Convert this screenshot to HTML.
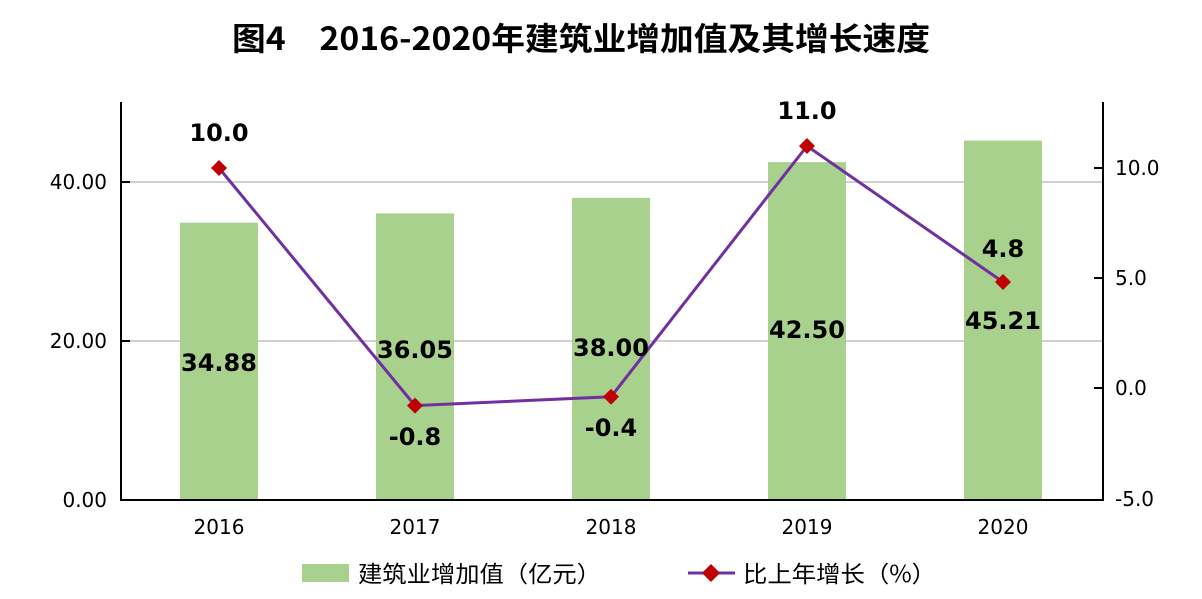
<!DOCTYPE html>
<html><head><meta charset="utf-8"><style>
body{margin:0;background:#fff;}
svg{display:block;}
</style></head><body>
<svg width="1202" height="599" viewBox="0 0 1202 599" xmlns="http://www.w3.org/2000/svg">
<text x="232" y="50" textLength="698" lengthAdjust="spacingAndGlyphs" font-family="'Noto Sans CJK SC','Liberation Sans',sans-serif" font-weight="bold" font-size="32" fill="#000">图4　2016-2020年建筑业增加值及其增长速度</text>
<g stroke="#d0d0d0" stroke-width="2">
<line x1="121" y1="182" x2="1103" y2="182"/>
<line x1="121" y1="341" x2="1103" y2="341"/>
</g>
<g fill="#a9d18e">
<rect x="180" y="222.7" width="78" height="277.3"/>
<rect x="376" y="213.4" width="78" height="286.6"/>
<rect x="572" y="197.9" width="78" height="302.1"/>
<rect x="768" y="162.1" width="78" height="337.9"/>
<rect x="964" y="140.6" width="78" height="359.4"/>
</g>
<g stroke="#000" stroke-width="2" fill="none">
<line x1="121" y1="102" x2="121" y2="501"/>
<line x1="1103" y1="102" x2="1103" y2="501"/>
<line x1="120" y1="500" x2="1104" y2="500"/>
<line x1="121" y1="182" x2="130" y2="182"/>
<line x1="121" y1="341" x2="130" y2="341"/>
<line x1="1103" y1="168" x2="1094" y2="168"/>
<line x1="1103" y1="278" x2="1094" y2="278"/>
<line x1="1103" y1="388" x2="1094" y2="388"/>
</g>
<g font-family="'DejaVu Sans','Liberation Sans',sans-serif" font-size="20" fill="#000">
<text x="107" y="189" text-anchor="end">40.00</text>
<text x="107" y="348" text-anchor="end">20.00</text>
<text x="107" y="507" text-anchor="end">0.00</text>
<text x="1115" y="175">10.0</text>
<text x="1115" y="285">5.0</text>
<text x="1115" y="395">0.0</text>
<text x="1115" y="506">-5.0</text>
<text x="219" y="534" text-anchor="middle">2016</text>
<text x="415" y="534" text-anchor="middle">2017</text>
<text x="611" y="534" text-anchor="middle">2018</text>
<text x="807" y="534" text-anchor="middle">2019</text>
<text x="1003" y="534" text-anchor="middle">2020</text>
</g>
<polyline points="219,168 415,405.6 611,396.8 807,146 1003,282" fill="none" stroke="#7030a0" stroke-width="3"/>
<g fill="#c00000">
<polygon points="219,160 227,168 219,176 211,168"/>
<polygon points="415,397.6 423,405.6 415,413.6 407,405.6"/>
<polygon points="611,388.8 619,396.8 611,404.8 603,396.8"/>
<polygon points="807,138 815,146 807,154 799,146"/>
<polygon points="1003,274 1011,282 1003,290 995,282"/>
</g>
<g font-family="'DejaVu Sans','Liberation Sans',sans-serif" font-size="24" font-weight="bold" fill="#000" text-anchor="middle">
<text x="219" y="141">10.0</text>
<text x="415" y="445">-0.8</text>
<text x="611" y="436">-0.4</text>
<text x="807" y="119">11.0</text>
<text x="1003" y="257">4.8</text>
<text x="219" y="371">34.88</text>
<text x="415" y="358">36.05</text>
<text x="611" y="356">38.00</text>
<text x="807" y="338">42.50</text>
<text x="1003" y="329">45.21</text>
</g>
<rect x="302" y="564" width="47" height="18" fill="#a9d18e"/>
<line x1="688" y1="573" x2="735" y2="573" stroke="#7030a0" stroke-width="3"/>
<polygon points="711,564 720,573 711,582 702,573" fill="#c00000"/>
<g font-family="'Noto Sans CJK SC','Liberation Sans',sans-serif" font-size="23" fill="#000">
<text x="358" y="582" textLength="243" lengthAdjust="spacingAndGlyphs">建筑业增加值（亿元）</text>
<text x="743" y="582" textLength="193" lengthAdjust="spacingAndGlyphs">比上年增长（%）</text>
</g>
</svg>
</body></html>
